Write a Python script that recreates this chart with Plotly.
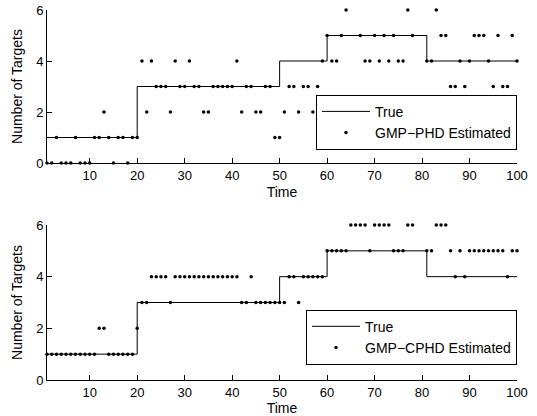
import plotly.graph_objects as go

# ---- data ----
time = list(range(1, 101))

# true number of targets (staircase breakpoints)
true_times = [1, 20, 50, 60, 81, 100]
true_values = [1, 3, 4, 5, 4, 4]

# GMP-PHD estimated number of targets (top panel)
phd_est = [
    0, 0, 1, 0, 0, 0, 1, 0, 0, 0,
    1, 1, 2, 1, 0, 1, 1, 0, 1, 1,
    4, 2, 4, 3, 3, 3, 2, 4, 3, 3,
    4, 3, 3, 2, 2, 3, 3, 3, 3, 3,
    4, 2, 3, 3, 2, 2, 3, 3, 1, 1,
    2, 3, 3, 2, 3, 3, 2, 3, 4, 5,
    4, 4, 5, 6, None, None, 5, 4, 4, 5,
    4, 5, 4, 5, 4, 4, 6, 5, None, None,
    4, 4, 6, 5, 5, 3, 3, 4, 3, 4,
    5, 5, 5, 4, 3, 5, 3, 3, 5, 4,
]

# GMP-CPHD estimated number of targets (bottom panel)
cphd_est = [
    1, 1, 1, 1, 1, 1, 1, 1, 1, 1,
    1, 2, 2, 1, 1, 1, 1, 1, 1, 2,
    3, 3, 4, 4, 4, 4, 3, 4, 4, 4,
    4, 4, 4, 4, 4, 4, 4, 4, 4, 4,
    4, 3, 3, 4, 3, 3, 3, 3, 3, 3,
    3, 4, 4, 3, 4, 4, 4, 4, 4, 5,
    5, 5, 5, 5, 6, 6, 6, 6, 5, 6,
    6, 6, 6, 5, 5, 5, 6, 6, None, None,
    5, 5, 6, 6, 6, 5, 4, 5, 4, 5,
    5, 5, 5, 5, 5, 5, 5, 4, 5, 5,
]

x_ticks = [10, 20, 30, 40, 50, 60, 70, 80, 90, 100]
y_ticks = [0, 2, 4, 6]

FONT = "Liberation Sans, Arial, Helvetica, sans-serif"
W, H = 537, 416
ML, MR, MT, MB = 47, 20, 10, 36
PW, PH = W - ML - MR, H - MT - MB

fig = go.Figure()

# top panel
fig.add_trace(go.Scatter(x=true_times, y=true_values, mode="lines", line_shape="hv",
                         line=dict(color="black", width=1), name="True",
                         xaxis="x", yaxis="y", legend="legend", cliponaxis=False))
fig.add_trace(go.Scatter(x=time, y=phd_est, mode="markers",
                         marker=dict(color="black", size=3.5, symbol="circle"),
                         name="GMP\u2212PHD Estimated", xaxis="x", yaxis="y",
                         legend="legend", cliponaxis=False))
# bottom panel
fig.add_trace(go.Scatter(x=true_times, y=true_values, mode="lines", line_shape="hv",
                         line=dict(color="black", width=1), name="True",
                         xaxis="x2", yaxis="y2", legend="legend2", cliponaxis=False))
fig.add_trace(go.Scatter(x=time, y=cphd_est, mode="markers",
                         marker=dict(color="black", size=3.5, symbol="circle"),
                         name="GMP\u2212CPHD Estimated", xaxis="x2", yaxis="y2",
                         legend="legend2", cliponaxis=False))

def ydom(top_px, bot_px):
    return [1 - (bot_px - MT) / PH, 1 - (top_px - MT) / PH]

top_dom = ydom(10, 163)
bot_dom = ydom(225, 380)

def xax(anchor):
    return dict(domain=[0, 1], range=[1, 100], tickvals=x_ticks, ticks="inside",
                ticklen=5, tickcolor="black", showline=True, linecolor="black",
                linewidth=1, showgrid=False, zeroline=False, anchor=anchor,
                automargin=False,
                tickfont=dict(family=FONT, size=13, color="black"),
                title=dict(text="Time", font=dict(family=FONT, size=14, color="black"),
                           standoff=5))

def yax(dom, anchor):
    return dict(domain=dom, range=[0, 6], tickvals=y_ticks, ticks="inside",
                ticklen=5, tickcolor="black", showline=True, linecolor="black",
                linewidth=1, showgrid=False, zeroline=False, anchor=anchor,
                automargin=False,
                tickfont=dict(family=FONT, size=13, color="black"),
                title=dict(text="Number of Targets",
                           font=dict(family=FONT, size=14, color="black"), standoff=10))

def leg(ymid):
    return dict(x=1, xanchor="right", y=1 - (ymid - MT) / PH, yanchor="middle",
                bgcolor="white", bordercolor="black", borderwidth=1,
                font=dict(family=FONT, size=14, color="black"),
                tracegroupgap=0, itemwidth=48)

fig.update_layout(
    width=W, height=H,
    margin=dict(l=ML, r=MR, t=MT, b=MB, pad=0),
    paper_bgcolor="white", plot_bgcolor="white",
    font=dict(family=FONT, color="black"),
    xaxis=xax("y"), yaxis=yax(top_dom, "x"),
    xaxis2=xax("y2"), yaxis2=yax(bot_dom, "x2"),
    legend=leg(122.3), legend2=leg(337.2),
    showlegend=True,
)

fig.write_html("out.html",
               config={"displayModeBar": False},
               post_script="document.body.style.margin='0';document.body.style.overflow='hidden';")
